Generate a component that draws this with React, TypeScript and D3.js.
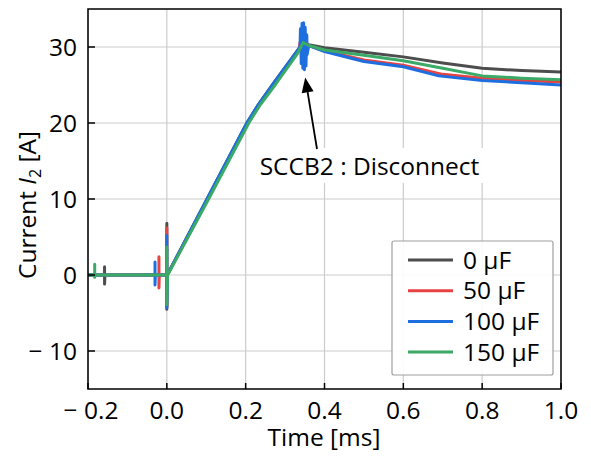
import * as d3 from "d3";

// time [ms], current [A]
const xTicks = [-0.2, 0, 0.2, 0.4, 0.6, 0.8, 1.0];
const yTicks = [-10, 0, 10, 20, 30];

const seriesNames = ["0 µF", "50 µF", "100 µF", "150 µF"];
const seriesColors = ["#4d4d4d", "#e84343", "#1d6fe0", "#3aaa66"];

const s0uF: [number, number][] = [
  [-0.2, 0], [-0.158, 0], [-0.158, 1.1], [-0.158, -1.2], [-0.157, 0],
  [-0.05, 0], [0, 0], [0, 6.8], [0, -4.5], [0.001, 0],
  [0.102, 10.0], [0.204, 20.1], [0.233, 22.5], [0.273, 25.4], [0.328, 29.3],
  [0.338, 30.0], [0.34, 31.4], [0.342, 28.4], [0.345, 30.6], [0.36, 30.3],
  [0.4, 29.9], [0.5, 29.3], [0.6, 28.7], [0.7, 27.9], [0.8, 27.2], [0.9, 26.9], [1.0, 26.7],
];
const s50uF: [number, number][] = [
  [-0.2, 0], [-0.02, 0], [-0.02, 2.4], [-0.02, -1.7], [-0.019, 0],
  [0, 0], [0, 6.2], [0, -4.2], [0.001, 0],
  [0.103, 9.9], [0.205, 20], [0.234, 22.4], [0.274, 25.3], [0.329, 29.2],
  [0.336, 29.8], [0.338, 30.6], [0.342, 29.4], [0.346, 30.5], [0.36, 30.2],
  [0.4, 29.5], [0.5, 28.3], [0.6, 27.6], [0.7, 26.4], [0.8, 25.9], [0.9, 25.6], [1.0, 25.4],
];
const s100uF: [number, number][] = [
  [-0.2, 0], [-0.03, 0], [-0.03, 1.7], [-0.03, -1.3], [-0.029, 0],
  [0, 0], [0, 5.2], [0, -4.3], [0.001, 0],
  [0.101, 9.9], [0.203, 20], [0.232, 22.4], [0.272, 25.3], [0.328, 29.3],
  [0.338, 30.0], [0.339, 32.4], [0.341, 27.8], [0.343, 33.1], [0.345, 27.2],
  [0.347, 33.2], [0.349, 27.0], [0.351, 32.6], [0.353, 27.5], [0.355, 31.6],
  [0.356, 29.0], [0.36, 30.2],
  [0.4, 29.4], [0.5, 28.1], [0.6, 27.4], [0.69, 26.2], [0.8, 25.6], [0.9, 25.3], [1.0, 25.0],
];
const s150uF: [number, number][] = [
  [-0.2, 0], [-0.183, 0], [-0.183, 1.4], [-0.183, -0.3], [-0.182, 0],
  [0, 0], [0, 3.7], [0, -3.9], [0.002, 0],
  [0.105, 9.9], [0.208, 20], [0.237, 22.4], [0.276, 25.1], [0.331, 29.1],
  [0.346, 30.6], [0.36, 30.2],
  [0.4, 29.6], [0.5, 28.9], [0.6, 28.2], [0.7, 27.2], [0.8, 26.2], [0.9, 25.9], [1.0, 25.7],
];
const seriesData = [s0uF, s50uF, s100uF, s150uF];

const annotationText = "SCCB2 : Disconnect";
const annotationTip: [number, number] = [0.351, 26.0];

const W = 591;
const H = 457;
const left = 88, right = 561, top = 9, bottom = 389;
const font = "'Open Sans', sans-serif";
const fs = 24.5;

const fmt = (v: number, digits: number) =>
  v < 0 ? `\u2212 ${Math.abs(v).toFixed(digits)}` : v.toFixed(digits);

export default function App() {
  const x = d3.scaleLinear().domain([-0.2, 1.0]).range([left, right]);
  const y = d3.scaleLinear().domain([-15, 35]).range([bottom, top]);
  const line = d3
    .line<[number, number]>()
    .x((d) => x(d[0]))
    .y((d) => y(d[1]));

  const tipX = x(annotationTip[0]);
  const tipY = y(annotationTip[1]);
  const tailX = 317;
  const tailY = 149;
  const ang = Math.atan2(tipY - tailY, tipX - tailX);
  const hl = 15, hw = 6;
  const bx = tipX - hl * Math.cos(ang), by = tipY - hl * Math.sin(ang);
  const head = [
    [tipX, tipY],
    [bx + hw * Math.sin(ang), by - hw * Math.cos(ang)],
    [bx - hw * Math.sin(ang), by + hw * Math.cos(ang)],
  ];

  const legX = 392, legY = 241;
  return (
    <svg width={W} height={H} style={{ display: "block", position: "absolute", left: 0, top: 0 }}
      fontFamily={font}>
      <rect x={0} y={0} width={W} height={H} fill="#fff" />
      <defs>
        <clipPath id="plot">
          <rect x={left} y={top} width={right - left} height={bottom - top} />
        </clipPath>
      </defs>
      {/* grid */}
      {xTicks.map((t) => (
        <line key={"gx" + t} x1={x(t)} x2={x(t)} y1={top} y2={bottom} stroke="#cccccc" strokeWidth={1.2} />
      ))}
      {yTicks.map((t) => (
        <line key={"gy" + t} x1={left} x2={right} y1={y(t)} y2={y(t)} stroke="#cccccc" strokeWidth={1.2} />
      ))}
      {/* annotation background */}
      <rect x={250} y={148} width={236} height={35} fill="#fff" />
      <g clipPath="url(#plot)">
        {seriesData.map((s, i) => (
          <path key={i} d={line(s) || ""} fill="none" stroke={seriesColors[i]}
            strokeWidth={3} strokeLinejoin="round" />
        ))}
      </g>
      {/* annotation */}
      <text x={369.5} y={175} fontSize={fs} textAnchor="middle" fill="#000">{annotationText}</text>
      <line x1={tailX} y1={tailY} x2={bx} y2={by} stroke="#000" strokeWidth={1.8} />
      <polygon points={head.map((p) => p.join(",")).join(" ")} fill="#000" />
      {/* frame */}
      <rect x={left} y={top} width={right - left} height={bottom - top} fill="none" stroke="#000" strokeWidth={1.5} />
      {/* ticks */}
      {xTicks.map((t) => (
        <g key={"tx" + t}>
          <line x1={x(t)} x2={x(t)} y1={bottom} y2={bottom - 6} stroke="#000" strokeWidth={1.5} />
          <text x={x(t) + (t < 0 ? 3 : 0)} y={419} fontSize={fs} textAnchor="middle">{fmt(t, 1)}</text>
        </g>
      ))}
      {yTicks.map((t) => (
        <g key={"ty" + t}>
          <line x1={left} x2={left + 7} y1={y(t)} y2={y(t)} stroke="#000" strokeWidth={1.5} />
          <text x={77} y={y(t) + 8.6} fontSize={fs} textAnchor="end">{fmt(t, 0)}</text>
        </g>
      ))}
      {/* axis labels */}
      <text x={324} y={446} fontSize={fs} textAnchor="middle">Time [ms]</text>
      <text transform="translate(36,205) rotate(-90)" fontSize={fs} textAnchor="middle">
        Current <tspan fontStyle="italic">I</tspan>
        <tspan fontSize={16} dy={5}>2</tspan>
        <tspan dy={-5}> [A]</tspan>
      </text>
      {/* legend */}
      <rect x={legX} y={legY} width={161} height={134} rx={2} fill="#fff" fillOpacity={0.9} stroke="#a0a0a0" strokeWidth={1.2} />
      {seriesNames.map((n, i) => (
        <g key={n}>
          <line x1={408} x2={453} y1={260 + i * 30.7} y2={260 + i * 30.7} stroke={seriesColors[i]} strokeWidth={3} />
          <text x={463} y={260 + i * 30.7 + 8.6} fontSize={fs}>{n}</text>
        </g>
      ))}
    </svg>
  );
}
